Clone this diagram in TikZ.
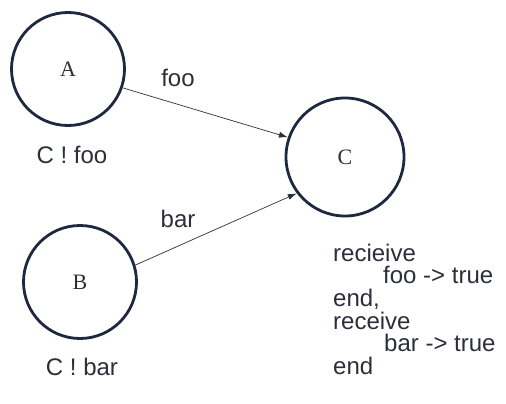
\documentclass[tikz,border=0pt]{standalone}
\usepackage{fontspec}
\setmainfont{Liberation Sans}
\newfontfamily\statefont{Liberation Serif}
\usetikzlibrary{arrows.meta}
\definecolor{ringcol}{HTML}{1E2940}
\definecolor{inkcol}{HTML}{2A2F3A}
\tikzset{
  proc/.style={circle, draw=ringcol, line width=2.8pt, minimum size=113pt, inner sep=0pt,
    font=\statefont\fontsize{22}{22}\selectfont, text=inkcol},
  lbl/.style={font=\fontsize{24}{22.7}\selectfont, text=inkcol, inner sep=0pt},
  codeline/.style={lbl, anchor=base west},
  msg/.style={draw=inkcol, line width=0.7pt, -{Latex[length=9pt,width=6pt]}},
}
\begin{document}
\begin{tikzpicture}[x=1pt,y=-1pt]
  \useasboundingbox (0,0) rectangle (506,404);
  % processes
  \node[proc] (A) at (68,69) {A};
  \node[proc] (B) at (80,282) {B};
  \node[proc, minimum size=118pt] (C) at (345,157) {C};
  % messages sent to C
  \draw[msg] (A.-19) -- (C.161);
  \draw[msg] (B.17) -- (C.-143);
  % labels
  \node[lbl, anchor=base] (foo) at (178,87) {foo};
  \node[lbl, anchor=base] (bar) at (178,227) {bar};
  \node[lbl, anchor=base] (sendfoo) at (72,163) {C ! foo};
  \node[lbl, anchor=base] (sendbar) at (82,375) {C ! bar};
  % receive code run by C
  \node[codeline] (c1) at (333,261) {recieive};
  \node[codeline] (c2) at (383,283.5) {foo -> true};
  \node[codeline] (c3) at (333,306) {end,};
  \node[codeline] (c4) at (333,329) {receive};
  \node[codeline] (c5) at (384,351.5) {bar -> true};
  \node[codeline] (c6) at (333,374) {end};
\end{tikzpicture}
\end{document}
